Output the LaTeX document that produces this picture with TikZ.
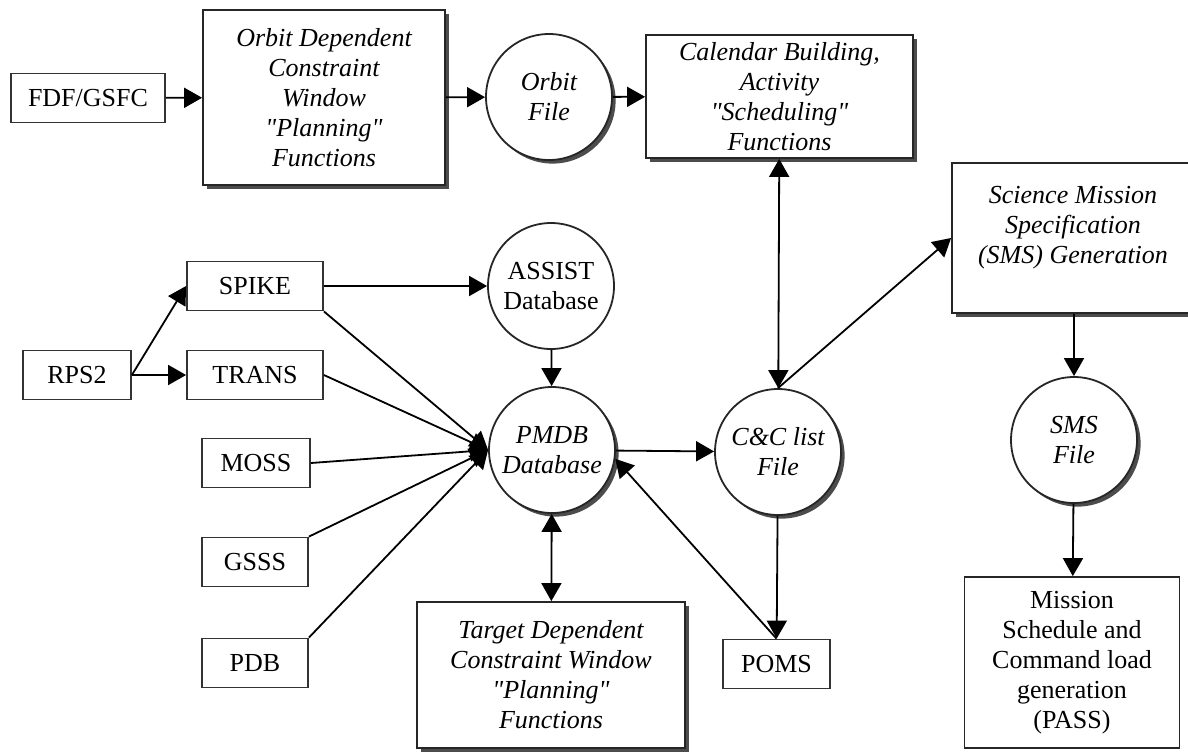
\documentclass[tikz,border=0pt]{standalone}
\usepackage{fontspec}
\setmainfont{Liberation Serif}
\usetikzlibrary{arrows.meta,shadows}

\newcommand{\diagfont}{\fontsize{13}{15}\selectfont}
\newcommand{\qt}[1]{\textquotedbl#1\textquotedbl}

\tikzset{
  smallbox/.style={draw=black!80, minimum height=24.5pt, inner sep=0pt, font=\diagfont},
  bigbox/.style={draw=black!85, fill=white, align=center, inner sep=0pt, font=\diagfont\itshape,
    drop shadow={shadow xshift=1.8pt, shadow yshift=-1.8pt, opacity=1, fill=black!70}},
  plainbox/.style={draw=black!85, align=center, inner sep=0pt, font=\diagfont},
  datafile/.style={circle, draw=black!85, fill=white, minimum size=63pt, inner sep=0pt, align=center, font=\diagfont\itshape},
  shadowfile/.style={datafile, drop shadow={shadow xshift=1.8pt, shadow yshift=-1.8pt, opacity=1, fill=black!70}}
}

\begin{document}
\begin{tikzpicture}[x=0.5pt, y=-0.5pt, line width=0.9pt, >={Triangle[length=9pt,width=10pt]}]
   \useasboundingbox (0,0) rectangle (1188,751);

   \node[smallbox, minimum width=77pt] (fdf) at (88,98) {FDF/GSFC};
   \node[bigbox, minimum width=121pt, minimum height=87.5pt] (orbdep) at (324,97.5)
      {Orbit Dependent\\Constraint\\Window\\\qt{Planning}\\Functions};
   \node[shadowfile] (orbit) at (549,97) {Orbit\\File};
   \node[bigbox, minimum width=133.5pt, minimum height=61.5pt] (cal) at (779.5,96.5)
      {Calendar Building,\\Activity\\\qt{Scheduling}\\Functions};

   \node[bigbox, minimum width=126pt, minimum height=75pt] (sci) at (1078,238) {};
   \node[align=center, font=\diagfont\itshape] (scitext) at (1073,228)
      {Science Mission\\Specification\\(SMS) Generation};
   \node[shadowfile] (sms) at (1074,440) {SMS\\File};
   \node[plainbox, minimum width=107.5pt, minimum height=85.5pt] (mission) at (1072,662.5)
      {Mission\\Schedule and\\Command load\\generation\\(PASS)};

   \node[smallbox, minimum width=54pt] (rps2) at (77,375) {RPS2};
   \node[smallbox, minimum width=68pt] (spike) at (255,286) {SPIKE};
   \node[smallbox, minimum width=68pt] (trans) at (255,375) {TRANS};
   \node[smallbox, minimum width=54pt] (moss) at (256,463) {MOSS};
   \node[smallbox, minimum width=53pt] (gsss) at (255,562) {GSSS};
   \node[smallbox, minimum width=53pt] (pdb) at (255,663) {PDB};

   \node[datafile, font=\diagfont] (assist) at (551,286) {ASSIST\\Database};
   \node[shadowfile] (pmdb) at (552,450) {PMDB\\Database};
   \node[shadowfile] (cc) at (778,452) {C\&C list\\File};
   \node[bigbox, minimum width=134pt, minimum height=73pt] (target) at (551,675)
      {Target Dependent\\Constraint Window\\\qt{Planning}\\Functions};
   \node[smallbox, minimum width=53.5pt] (poms) at (776.5,664) {POMS};

   \draw[->] (fdf) -- (orbdep);
   \draw[->] (orbdep) -- (orbit);
   \draw[->] (orbit) -- (cal);
   \draw[<->] (cal) -- (cc);
   \draw[->] (cc.north) -- (sci.west);
   \draw[->] (sms.north |- sci.south) -- (sms);
   \draw[->] (sms) -- (mission);

   \draw[->] (rps2.east) -- (spike.west);
   \draw[->] (rps2.east) -- (trans.west);
   \draw[->] (spike) -- (assist);
   \draw[->] (assist) -- (pmdb);
   \draw[->] (spike.south east) -- (pmdb.west);
   \draw[->] (trans.east) -- (pmdb.west);
   \draw[->] (moss.east) -- (pmdb.west);
   \draw[->] (gsss.north east) -- (pmdb.west);
   \draw[->] (pdb.north east) -- (pmdb.west);

   \draw[->] (pmdb) -- (cc);
   \draw[<->] (pmdb) -- (target);
   \draw[->] (cc) -- (poms);
   \draw[->] (poms.north) -- (pmdb.-8);
\end{tikzpicture}
\end{document}
